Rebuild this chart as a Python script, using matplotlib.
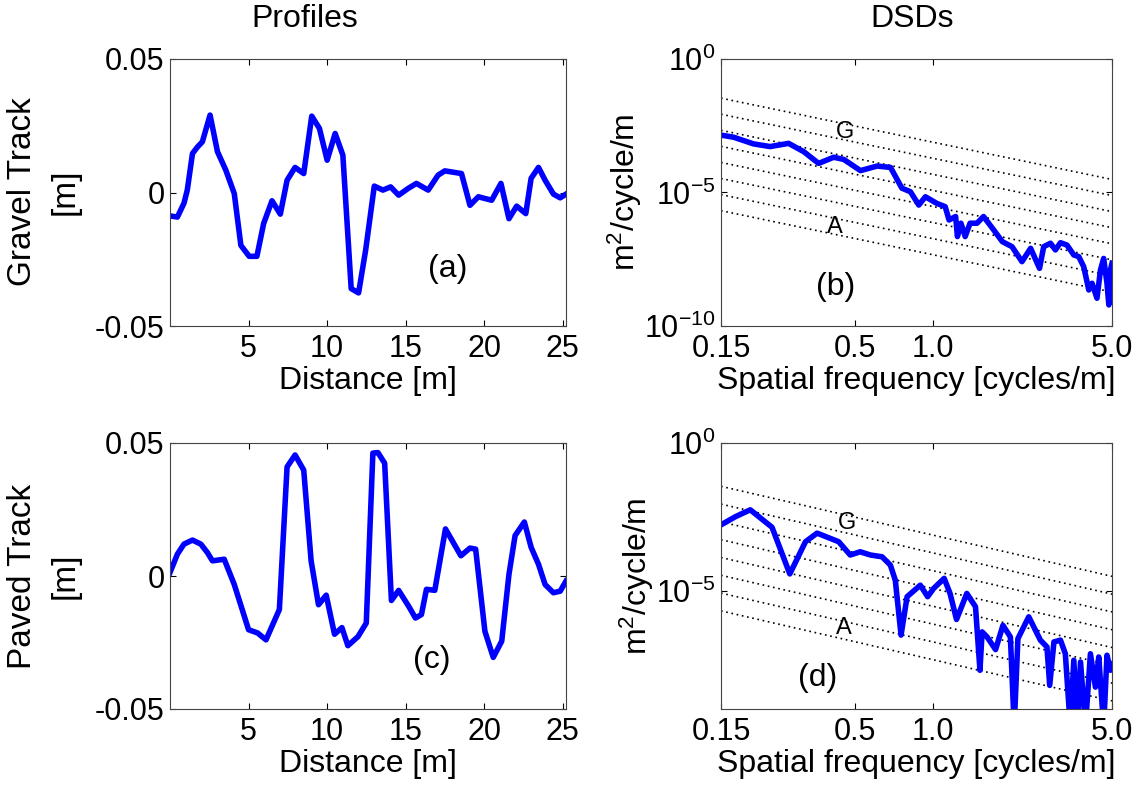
import numpy as np
import matplotlib
matplotlib.use('Agg')
import matplotlib.pyplot as plt
from matplotlib.ticker import FixedLocator, FixedFormatter, NullLocator

plt.rcParams['font.family'] = ['Liberation Sans', 'DejaVu Sans']
plt.rcParams['mathtext.fontset'] = 'custom'
plt.rcParams['mathtext.rm'] = 'Liberation Sans'
plt.rcParams['mathtext.it'] = 'Liberation Sans:italic'
plt.rcParams['axes.unicode_minus'] = False

# profile (a), gravel track: distance [m], elevation [m]
gravel_x = [0.04, 0.47, 0.89, 1.1, 1.43, 1.74, 2.06, 2.55, 3.02, 3.55, 4.09, 4.51,
            5.04, 5.53, 5.96, 6.49, 7.02, 7.45, 7.96, 8.51, 9.02, 9.51, 10.0, 10.51,
            11.0, 11.53, 12.0, 12.45, 13.0, 13.55, 14.04, 14.55, 15.15, 15.68, 16.43,
            17.06, 17.49, 18.55, 19.09, 19.62, 20.47, 21.06, 21.57, 22.06, 22.64,
            22.98, 23.45, 23.87, 24.40, 24.83, 25.2]
gravel_z = [-0.0088, -0.0092, -0.004, 0.0009, 0.0146, 0.017, 0.019, 0.029, 0.0153,
            0.0084, -0.0004, -0.0198, -0.0239, -0.0239, -0.0116, -0.0031, -0.0081,
            0.0046, 0.0094, 0.0071, 0.0286, 0.024, 0.0121, 0.0221, 0.014, -0.036,
            -0.0376, -0.0216, 0.0024, 0.0009, 0.0021, -0.001, 0.0015, 0.0034, 0.0009,
            0.0065, 0.0081, 0.0071, -0.0048, -0.0016, -0.0029, 0.0034, -0.0098,
            -0.0051, -0.0079, 0.0053, 0.0094, 0.0046, -0.0006, -0.002, -0.0006]

# profile (c), paved track
paved_x = [0.0, 0.47, 0.89, 1.43, 1.96, 2.38, 2.70, 3.45, 4.09, 5.0, 5.57, 6.11,
           6.96, 7.45, 7.96, 8.51, 8.98, 9.45, 9.94, 10.47, 10.94, 11.32, 11.96,
           12.49, 12.91, 13.23, 13.66, 14.09, 14.55, 15.19, 15.62, 16.0, 16.32,
           16.85, 17.53, 18.51, 19.09, 19.45, 20.04, 20.57, 21.11, 21.57, 21.96,
           22.55, 22.98, 23.45, 23.87, 24.40, 24.83, 25.2]
paved_z = [0.0013, 0.0082, 0.012, 0.0135, 0.012, 0.0088, 0.0057, 0.0063, -0.0032,
           -0.0202, -0.0214, -0.024, -0.0126, 0.041, 0.0455, 0.0398, 0.0057,
           -0.0108, -0.0072, -0.0219, -0.0194, -0.0262, -0.0228, -0.0177, 0.0462,
           0.0464, 0.0424, -0.0092, -0.0054, -0.0114, -0.0158, -0.0145, -0.005,
           -0.0054, 0.0177, 0.0076, 0.0105, 0.0101, -0.0208, -0.0306, -0.0245,
           0.0006, 0.0152, 0.0203, 0.0108, 0.0044, -0.0032, -0.0063, -0.0057,
           -0.0019]

# DSD (b), gravel: spatial frequency [cycles/m], log10 of DSD [m^2/cycle/m]
gravel_n = [0.15, 0.168, 0.201, 0.233, 0.275, 0.315, 0.360, 0.412, 0.451, 0.524,
            0.608, 0.686, 0.760, 0.820, 0.884, 0.938, 1.04, 1.12, 1.16, 1.23, 1.25,
            1.29, 1.34, 1.40, 1.49, 1.58, 1.73, 1.87, 2.04, 2.23, 2.41, 2.61, 2.71,
            2.88, 3.01, 3.15, 3.34, 3.55, 3.71, 3.88, 4.06, 4.18, 4.37, 4.51, 4.64,
            4.78, 4.86, 4.93, 5.0]
gravel_logG = [-2.85, -2.93, -3.18, -3.28, -3.16, -3.47, -3.91, -3.68, -3.76, -4.18,
               -4.01, -4.06, -4.84, -4.97, -5.47, -5.16, -5.41, -5.53, -6.03, -5.9,
               -6.65, -6.15, -6.65, -6.15, -6.15, -5.9, -6.40, -6.84, -7.03, -7.59,
               -7.09, -7.84, -7.03, -6.90, -7.15, -6.88, -6.97, -7.34, -7.40, -7.78,
               -8.65, -8.40, -8.96, -7.90, -7.47, -8.40, -9.21, -7.90, -7.65]

# DSD (d), paved
paved_n = [0.15, 0.171, 0.195, 0.237, 0.278, 0.320, 0.355, 0.431, 0.478, 0.523,
           0.573, 0.636, 0.685, 0.716, 0.754, 0.796, 0.896, 0.957, 1.01, 1.11, 1.17,
           1.24, 1.36, 1.47, 1.53, 1.56, 1.63, 1.76, 1.88, 2.01, 2.08, 2.15, 2.37,
           2.63, 2.79, 2.86, 2.97, 3.15, 3.29, 3.44, 3.55, 3.66, 3.77, 3.94, 4.12,
           4.31, 4.44, 4.64, 4.78, 4.93, 5.0]
paved_logG = [-2.77, -2.49, -2.26, -2.85, -4.43, -3.34, -3.05, -3.34, -3.79, -3.68,
              -3.79, -3.85, -4.13, -4.64, -6.50, -5.20, -4.81, -5.20, -4.92, -4.58,
              -5.09, -5.97, -5.09, -5.54, -7.69, -6.39, -6.56, -6.99, -6.17, -6.56,
              -9.6, -6.62, -5.88, -6.67, -6.90, -8.20, -6.73, -6.67, -7.13, -9.6,
              -7.35, -9.6, -7.41, -9.6, -7.13, -8.26, -7.24, -9.6, -7.18, -7.69,
              -7.47]

# road class boundaries (A lower ... G upper), DSD at n0 = 0.1 cycles/m
n0 = 0.1
class_g0 = 4.7e-6 * 4.0 ** np.arange(8)
class_n = np.array([0.15, 5.0])

blue = '#0000ff'
fs = 22    # tick labels
fl = 23    # axis labels / titles

fig = plt.figure(figsize=(11.43, 7.86), dpi=100)
W, H = 1143, 786


def add_ax(x0, y0, x1, y1):
    return fig.add_axes([x0 / W, 1 - y1 / H, (x1 - x0) / W, (y1 - y0) / H])


def style(ax):
    ax.tick_params(direction='in', top=True, right=True, length=4, width=0.8,
                   labelsize=fs, pad=6, colors='black')
    for s in ax.spines.values():
        s.set_linewidth(0.8)
        s.set_color('#444444')


ax_a = add_ax(170, 59, 566, 326)
ax_b = add_ax(721, 59, 1112, 326)
ax_c = add_ax(170, 443, 566, 709)
ax_d = add_ax(721, 443, 1112, 709)

for ax, x, z, lab, lpos in [(ax_a, gravel_x, gravel_z, '(a)', (0.70, 0.215)),
                            (ax_c, paved_x, paved_z, '(c)', (0.662, 0.184))]:
    ax.plot(x, z, color=blue, lw=4, solid_joinstyle='round')
    ax.set_xlim(0, 25.2)
    ax.set_ylim(-0.05, 0.05)
    ax.set_xticks([5, 10, 15, 20, 25])
    ax.set_yticks([-0.05, 0, 0.05])
    ax.set_yticklabels(['-0.05', '0', '0.05'])
    style(ax)
    ax.tick_params(axis='y', pad=4)
    ax.set_xlabel('Distance [m]', fontsize=fl, labelpad=1)
    ax.text(*lpos, lab, transform=ax.transAxes, fontsize=fl, ha='center', va='center')

for ax, n, lg, ymin, yt, lab, gpos, apos, lpos in [
        (ax_b, gravel_n, gravel_logG, 1e-10, [1e-10, 1e-5, 1e0], '(b)',
         (0.318, 0.727), (0.292, 0.371), (0.292, 0.146)),
        (ax_d, paved_n, paved_logG, 1e-9, [1e-5, 1e0], '(d)',
         (0.323, 0.699), (0.313, 0.305), (0.246, 0.117))]:
    for g0 in class_g0:
        ax.loglog(class_n, g0 * (class_n / n0) ** -2, color='black',
                  lw=1.2, linestyle=(0, (1, 2.2)))
    ax.loglog(n, 10.0 ** np.array(lg), color=blue, lw=4, solid_joinstyle='round')
    ax.set_xlim(0.15, 5.0)
    ax.set_ylim(ymin, 1.0)
    ax.xaxis.set_major_locator(FixedLocator([0.15, 0.5, 1.0, 5.0]))
    ax.xaxis.set_major_formatter(FixedFormatter(['0.15', '0.5', '1.0', '5.0']))
    ax.xaxis.set_minor_locator(NullLocator())
    ax.yaxis.set_major_locator(FixedLocator(yt))
    ax.yaxis.set_major_formatter(FixedFormatter(
        [r'$10^{%d}$' % int(round(np.log10(v))) for v in yt]))
    ax.yaxis.set_minor_locator(NullLocator())
    style(ax)
    ax.tick_params(axis='y', pad=4)
    ax.set_xlabel('Spatial frequency [cycles/m]', fontsize=fl, labelpad=1)
    ax.set_ylabel(r'm$^2$/cycle/m', fontsize=fl, labelpad=0)
    ax.text(*gpos, 'G', transform=ax.transAxes, fontsize=17, ha='center', va='center')
    ax.text(*apos, 'A', transform=ax.transAxes, fontsize=17, ha='center', va='center')
    ax.text(*lpos, lab, transform=ax.transAxes, fontsize=fl, ha='center', va='center')

fig.text(305 / W, 1 - 19 / H, 'Profiles', fontsize=fl, ha='center', va='center')
fig.text(912 / W, 1 - 19 / H, 'DSDs', fontsize=fl, ha='center', va='center')
for yc, name in [(192, 'Gravel Track'), (576, 'Paved Track')]:
    fig.text(23 / W, 1 - yc / H, name, fontsize=fl + 1, rotation=90,
             ha='center', va='center')
    fig.text(65 / W, 1 - yc / H, '[m]', fontsize=fl + 1, rotation=90,
             ha='center', va='center')

fig.savefig('out.png', dpi=100)
